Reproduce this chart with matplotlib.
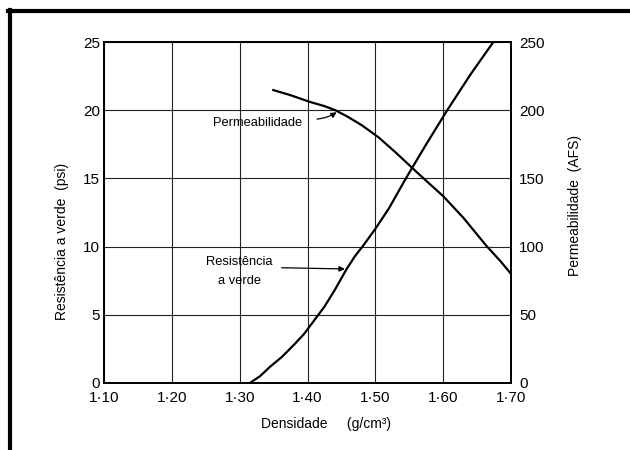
import matplotlib

matplotlib.use("Agg")
import matplotlib.pyplot as plt
from matplotlib.lines import Line2D

plt.rcParams["font.family"] = ["Liberation Sans", "DejaVu Sans"]

# Green strength (psi) vs density
dens_res = [1.315, 1.33, 1.345, 1.362, 1.38, 1.395, 1.41, 1.425, 1.44, 1.457,
            1.47, 1.481, 1.50, 1.52, 1.545, 1.575, 1.606, 1.64, 1.674]
resist = [0.0, 0.5, 1.2, 1.9, 2.8, 3.6, 4.6, 5.6, 6.8, 8.3,
          9.3, 10.0, 11.3, 12.8, 15.0, 17.5, 20.0, 22.6, 25.0]

# Permeability (AFS) vs density
dens_perm = [1.348, 1.375, 1.404, 1.425, 1.441, 1.46, 1.48, 1.505, 1.53,
             1.558, 1.58, 1.600, 1.63, 1.663, 1.685, 1.700]
perm = [215, 211, 206, 203, 200, 195, 189, 180, 169,
        156, 146, 137, 121, 101, 89, 80]

x_ticks = [1.10, 1.20, 1.30, 1.40, 1.50, 1.60, 1.70]
x_labels = ["1·10", "1·20", "1·30", "1·40", "1·50", "1·60", "1·70"]
y_ticks = [0, 5, 10, 15, 20, 25]
y2_ticks = [0, 50, 100, 150, 200, 250]

fig = plt.figure(figsize=(6.3, 4.5), dpi=100)
ax = fig.add_axes([104 / 630, 1 - 383 / 450, 407 / 630, 341 / 450])
ax2 = ax.twinx()

ax.plot(dens_res, resist, color="black", lw=1.6, solid_capstyle="butt",
        solid_joinstyle="round")
ax2.plot(dens_perm, perm, color="black", lw=1.6, solid_capstyle="butt",
         solid_joinstyle="round")

ax.set_xlim(1.10, 1.70)
ax.set_ylim(0, 25)
ax2.set_ylim(0, 250)
ax.set_xticks(x_ticks)
ax.set_xticklabels(x_labels)
ax.set_yticks(y_ticks)
ax2.set_yticks(y2_ticks)

ax.grid(True, color="#222222", lw=0.8)
for a in (ax, ax2):
    for s in a.spines.values():
        s.set_linewidth(1.3)
ax.tick_params(axis="y", length=0, pad=3, labelsize=11)
ax.tick_params(axis="x", length=0, pad=6, labelsize=11)
ax2.tick_params(axis="y", length=0, pad=6, labelsize=11)

# axis titles
fig.text(62 / 630, 1 - 241 / 450, "Resistência a verde  (psi)", rotation=90,
         ha="center", va="center", fontsize=10)
fig.text(575 / 630, 1 - 205 / 450, "Permeabilidade  (AFS)", rotation=90,
         ha="center", va="center", fontsize=10)
fig.text(326 / 630, 1 - 424 / 450, "Densidade     (g/cm³)", ha="center",
         va="center", fontsize=10)

# curve labels
ax.text(1.326, 19.08, "Permeabilidade", ha="center", va="center", fontsize=9.3)
ax.annotate("", xy=(1.443, 19.85), xytext=(1.414, 19.35),
            arrowprops=dict(arrowstyle="-|>", color="black", lw=0.9,
                            shrinkA=0, shrinkB=0, mutation_scale=8,
                            connectionstyle="arc3,rad=0.12"))
ax.text(1.30, 8.2, "Resistência\na verde", ha="center", va="center",
        fontsize=9.3, linespacing=1.8)
ax.annotate("", xy=(1.455, 8.36), xytext=(1.362, 8.45),
            arrowprops=dict(arrowstyle="-|>", color="black", lw=0.9,
                            shrinkA=0, shrinkB=0, mutation_scale=8))

# page frame (top and left edges)
fig.add_artist(Line2D([8 / 630, 1.0], [1 - 11 / 450, 1 - 11 / 450],
                      transform=fig.transFigure, color="black", lw=3))
fig.add_artist(Line2D([9.5 / 630, 9.5 / 630], [0.0, 1 - 9.5 / 450],
                      transform=fig.transFigure, color="black", lw=3))

fig.savefig("out.png", dpi=100)
